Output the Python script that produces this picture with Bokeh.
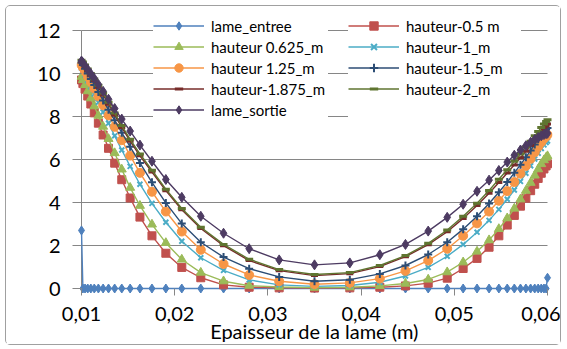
import math
from bokeh.plotting import figure
from bokeh.models import Range1d, FixedTicker, Legend, LegendItem, CustomJSTickFormatter, Label
from bokeh.embed import file_html
from bokeh.resources import INLINE

# ---------------- data ----------------
x_m = [0.01, 0.01015, 0.01038, 0.01067, 0.0110, 0.01137, 0.01181, 0.01232, 0.0129, 0.01356,
       0.01432, 0.01522, 0.01627, 0.01756, 0.01905, 0.02076, 0.0228, 0.02524, 0.02799, 0.03121,
       0.035,
       0.03879, 0.04201, 0.04476, 0.0472, 0.04924, 0.05095, 0.05244, 0.05373, 0.05478, 0.05568,
       0.05644, 0.0571, 0.05768, 0.05819, 0.05863, 0.059, 0.05933, 0.05962, 0.05985, 0.06]

lame_entree = [2.7, 0, 0, 0, 0, 0, 0, 0, 0, 0,
               0, 0, 0, 0, 0, 0, 0, 0, 0, 0,
               0,
               0, 0, 0, 0, 0, 0, 0, 0, 0, 0,
               0, 0, 0, 0, 0, 0, 0, 0, 0, 0.5]

hauteur_0_5 = [9.70, 9.53, 9.27, 8.95, 8.58, 8.17, 7.69, 7.14, 6.52, 5.83,
               5.06, 4.21, 3.32, 2.45, 1.64, 0.98, 0.50, 0.17, 0.06, 0.03,
               0.02,
               0.03, 0.06, 0.12, 0.25, 0.48, 0.93, 1.40, 1.92, 2.45, 2.95,
               3.40, 3.83, 4.20, 4.55, 4.85, 5.12, 5.36, 5.56, 5.70, 5.80]

hauteur_0_625 = [9.85, 9.70, 9.47, 9.18, 8.85, 8.48, 8.04, 7.53, 6.96, 6.30,
                 5.54, 4.69, 3.85, 2.98, 2.12, 1.35, 0.74, 0.34, 0.13, 0.07,
                 0.04,
                 0.06, 0.12, 0.23, 0.42, 0.76, 1.22, 1.72, 2.25, 2.77, 3.27,
                 3.72, 4.15, 4.55, 4.92, 5.26, 5.55, 5.79, 5.97, 6.09, 6.16]

hauteur_1 = [10.25, 10.12, 9.92, 9.67, 9.38, 9.05, 8.66, 8.21, 7.69, 7.10,
             6.44, 5.68, 4.85, 3.96, 3.08, 2.20, 1.43, 0.84, 0.40, 0.17,
             0.10,
             0.14, 0.29, 0.58, 0.98, 1.50, 2.05, 2.62, 3.17, 3.68, 4.15,
             4.58, 4.98, 5.36, 5.71, 6.02, 6.29, 6.51, 6.68, 6.79, 6.86]

hauteur_1_25 = [10.40, 10.28, 10.10, 9.87, 9.60, 9.30, 8.94, 8.52, 8.05, 7.52,
                6.90, 6.18, 5.38, 4.50, 3.58, 2.65, 1.80, 1.14, 0.63, 0.34,
                0.20,
                0.26, 0.46, 0.82, 1.30, 1.85, 2.45, 3.03, 3.58, 4.08, 4.53,
                4.95, 5.34, 5.70, 6.03, 6.33, 6.59, 6.80, 6.97, 7.08, 7.15]

hauteur_1_5 = [10.50, 10.39, 10.22, 10.00, 9.75, 9.47, 9.14, 8.75, 8.31, 7.82,
               7.25, 6.59, 5.84, 4.94, 3.98, 3.02, 2.15, 1.46, 0.92, 0.54,
               0.34,
               0.41, 0.68, 1.07, 1.58, 2.15, 2.76, 3.36, 3.95, 4.48, 4.95,
               5.38, 5.76, 6.10, 6.42, 6.70, 6.95, 7.14, 7.30, 7.40, 7.47]

hauteur_1_875 = [10.57, 10.47, 10.33, 10.14, 9.92, 9.67, 9.36, 9.00, 8.57, 8.07,
                 7.49, 6.85, 6.17, 5.42, 4.55, 3.66, 2.79, 1.99, 1.30, 0.83,
                 0.60,
                 0.69, 1.02, 1.48, 2.04, 2.64, 3.26, 3.86, 4.43, 4.93, 5.37,
                 5.75, 6.08, 6.38, 6.65, 6.89, 7.09, 7.28, 7.44, 7.56, 7.65]

hauteur_2 = [10.62, 10.53, 10.39, 10.21, 10.00, 9.75, 9.45, 9.09, 8.66, 8.16,
             7.58, 6.94, 6.26, 5.50, 4.62, 3.72, 2.85, 2.05, 1.36, 0.88,
             0.65,
             0.74, 1.07, 1.53, 2.10, 2.72, 3.36, 3.97, 4.56, 5.08, 5.52,
             5.92, 6.26, 6.58, 6.85, 7.10, 7.30, 7.49, 7.65, 7.77, 7.85]

lame_sortie = [10.58, 10.50, 10.36, 10.19, 9.99, 9.77, 9.49, 9.17, 8.80, 8.37,
               7.88, 7.32, 6.67, 5.92, 5.07, 4.24, 3.36, 2.57, 1.85, 1.33,
               1.10,
               1.19, 1.57, 2.05, 2.67, 3.31, 3.92, 4.52, 5.04, 5.49, 5.88,
               6.20, 6.44, 6.64, 6.80, 6.93, 7.02, 7.10, 7.16, 7.20, 7.22]

series_names = ["lame_entree", "hauteur-0.5 m", "hauteur 0.625_m", "hauteur-1_m",
                "hauteur 1.25_m", "hauteur-1.5_m", "hauteur-1.875_m", "hauteur-2_m",
                "lame_sortie"]
series_values = [lame_entree, hauteur_0_5, hauteur_0_625, hauteur_1, hauteur_1_25,
                 hauteur_1_5, hauteur_1_875, hauteur_2, lame_sortie]

x_ticks = [0.01, 0.02, 0.03, 0.04, 0.05, 0.06]
y_ticks = [0, 2, 4, 6, 8, 10, 12]
x_title = "Epaisseur de la lame (m)"
y_title = "Température (°C)"

# ---------------- layout / styles ----------------
PX_PER_X = 9320.0          # screen px per metre
PX_PER_Y = 21.5            # screen px per degree
PAD = 5                    # extra px around the data box so edge markers are not cut
x_lo = x_ticks[0] - PAD / PX_PER_X
x_hi = x_ticks[-1] + PAD / PX_PER_X
y_lo = y_ticks[0] - PAD / PX_PER_Y
y_hi = y_ticks[0] + 282 / PX_PER_Y   # frame reaches the canvas top, so the legend is not cut

colors = ["#4F81BD", "#C0504D", "#9BBB59", "#4BACC6", "#F79646",
          "#2C4D75", "#772C2A", "#5F7530", "#4D3B62"]
# (marker, size, line_width)
markers = [("diamond", 9, 1),
           ("square", 8, 1),
           ("triangle", 9, 1),
           ("x", 7, 2),
           ("circle", 9, 1),
           ("cross", 8, 2),
           ("dash", 7, 3),
           ("dash", 8, 3),
           ("diamond", 10, 1)]

FONT = "Lato"
GRID = "#868686"

p = figure(width=556, height=340, output_backend="svg", toolbar_location=None,
           x_range=Range1d(x_lo, x_hi), y_range=Range1d(y_lo, y_hi),
           min_border_left=70, min_border_right=10, min_border_top=0, min_border_bottom=53,
           background_fill_color="white", border_fill_color="white")
p.margin = (5, 0, 0, 5)
p.styles = {"border": "1px solid #a0a0a0", "border-radius": "5px"}
p.outline_line_color = None
p.xgrid.visible = False
p.ygrid.visible = False

# gridlines and vertical axis line, spanning exactly the data box
n_y = len(y_ticks)
p.segment(x0=[x_ticks[0]] * n_y, x1=[x_ticks[-1]] * n_y, y0=y_ticks, y1=y_ticks,
          line_color=GRID, line_width=1, level="underlay")
p.segment(x0=[x_ticks[0]], x1=[x_ticks[0]], y0=[y_ticks[0]], y1=[y_ticks[-1]],
          line_color=GRID, line_width=1, level="underlay")

# axes (they sit PAD px outside the data box, ticks reach in to it)
p.xaxis.ticker = FixedTicker(ticks=x_ticks)
p.xaxis.formatter = CustomJSTickFormatter(code="return tick.toFixed(2).replace('.', ',');")
p.yaxis.ticker = FixedTicker(ticks=y_ticks)
for ax in (p.xaxis[0], p.yaxis[0]):
    ax.axis_line_color = None
    ax.major_tick_line_color = GRID
    ax.minor_tick_line_color = None
    ax.major_label_text_font = FONT
    ax.major_label_text_font_size = "20px"
    ax.major_label_text_color = "#000000"
p.xaxis.major_tick_in = PAD
p.xaxis.major_tick_out = 2
p.xaxis.major_label_standoff = 11
p.xaxis.axis_label = x_title
p.xaxis.axis_label_text_font = FONT
p.xaxis.axis_label_text_font_size = "20px"
p.xaxis.axis_label_text_font_style = "normal"
p.xaxis.axis_label_text_color = "#000000"
p.xaxis.axis_label_standoff = -5
p.yaxis.major_tick_in = PAD
p.yaxis.major_tick_out = 4
p.yaxis.major_label_standoff = 12

# y title, centred a little below the middle of the plot like the original
p.add_layout(Label(x=x_ticks[0], y=5.58, x_offset=-56, text=y_title, angle=math.pi / 2,
                   text_align="center", text_baseline="middle", text_font=FONT,
                   text_font_size="20px", text_color="#000000"))

# series
items = {}
for name, ys, col, (mk, sz, lw) in zip(series_names, series_values, colors, markers):
    lr = p.line(x_m, ys, line_color=col, line_width=1.4)
    sr = p.scatter(x_m, ys, marker=mk, size=sz, fill_color=col, line_color=col, line_width=lw)
    items[name] = LegendItem(label=name, renderers=[lr, sr])

dummy = p.line([], [], line_alpha=0)

left_col = [items[n] for n in ["lame_entree", "hauteur 0.625_m", "hauteur 1.25_m",
                               "hauteur-1.875_m", "lame_sortie"]]
right_col = [items[n] for n in ["hauteur-0.5 m", "hauteur-1_m", "hauteur-1.5_m",
                                "hauteur-2_m"]] + [LegendItem(label=" ", renderers=[dummy])]

common = dict(orientation="vertical", padding=10, spacing=0, glyph_width=51, glyph_height=21,
              label_height=21, label_standoff=7, label_text_font=FONT,
              label_text_font_size="15px", label_text_color="#000000",
              background_fill_color="white", background_fill_alpha=1.0,
              border_line_color=None, margin=0)
leg_a = Legend(items=left_col, location=(77, 173), label_width=117, **common)
leg_b = Legend(items=right_col, location=(272, 173), label_width=115, **common)
p.add_layout(leg_a)
p.add_layout(leg_b)

open("out.html", "w").write(file_html(p, INLINE))
